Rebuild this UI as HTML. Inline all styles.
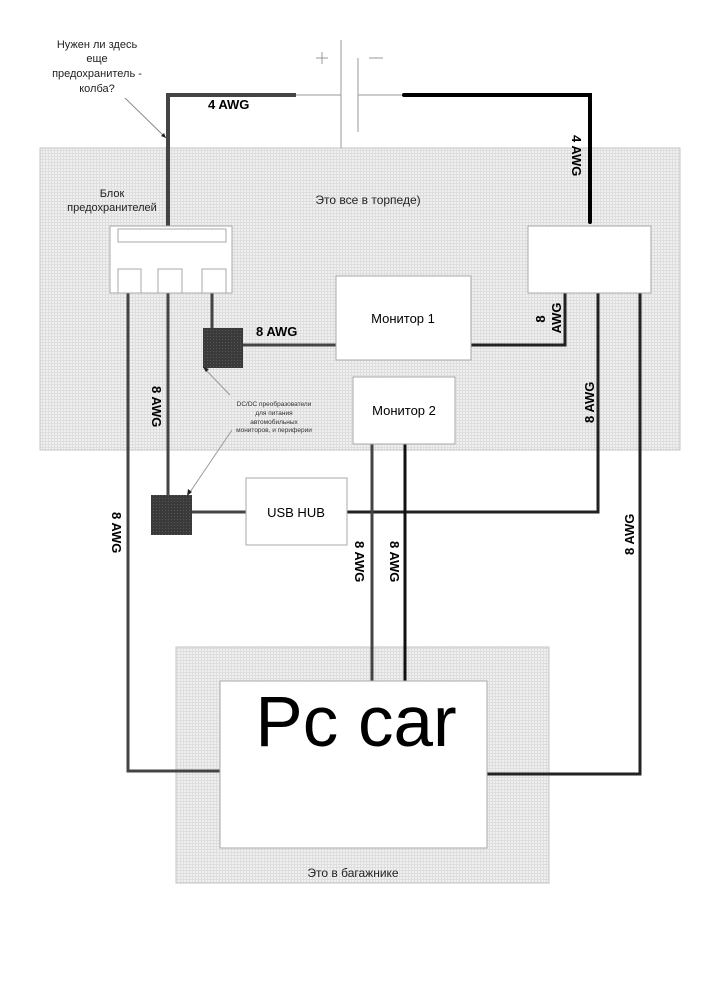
<!DOCTYPE html>
<html><head><meta charset="utf-8"><style>
html,body{margin:0;padding:0;background:#fff;}
svg{display:block;font-family:"Liberation Sans",Arial,sans-serif;}
</style></head><body>
<svg width="707" height="1000" viewBox="0 0 707 1000" xmlns="http://www.w3.org/2000/svg">
<defs>
<pattern id="g" width="3" height="3" patternUnits="userSpaceOnUse">
<rect width="3" height="3" fill="#f0f0f0"/><rect width="1" height="3" fill="#dedede"/><rect width="3" height="1" fill="#dedede"/>
</pattern>
<pattern id="d" width="3" height="3" patternUnits="userSpaceOnUse">
<rect width="3" height="3" fill="#3a3a3a"/><rect width="1" height="1" fill="#555"/>
</pattern>
</defs>
<rect x="40" y="148" width="640" height="302" fill="url(#g)" stroke="#c4c4c4"/>
<rect x="176" y="647" width="373" height="236" fill="url(#g)" stroke="#c4c4c4"/>
<line x1="341" y1="40" x2="341" y2="148" stroke="#999" stroke-width="1"/>
<line x1="358" y1="58" x2="358" y2="132" stroke="#999" stroke-width="1"/>
<line x1="296" y1="95" x2="341" y2="95" stroke="#999"/>
<line x1="358" y1="95" x2="404" y2="95" stroke="#999"/>
<line x1="316" y1="58" x2="328" y2="58" stroke="#999"/><line x1="322" y1="52" x2="322" y2="64" stroke="#999"/>
<line x1="369" y1="58" x2="383" y2="58" stroke="#999"/>
<polyline points="296,95 168,95 168,226" fill="none" stroke="#444" stroke-width="4"/>
<polyline points="404,95 590,95 590,222" fill="none" stroke="#000" stroke-width="4" stroke-linecap="round"/>
<text x="208" y="109" font-size="13" font-weight="bold">4 AWG</text>
<text transform="translate(572,135) rotate(90)" font-size="13" font-weight="bold">4 AWG</text>
<text font-size="11" text-anchor="middle" fill="#222"><tspan x="97" y="48">Нужен ли здесь</tspan><tspan x="97" y="62">еще</tspan><tspan x="97" y="77">предохранитель -</tspan><tspan x="97" y="92">колба?</tspan></text>
<line x1="125" y1="98" x2="166" y2="138" stroke="#888"/>
<polygon points="166,138 161,136 164,133" fill="#222"/>
<text font-size="11" text-anchor="middle" fill="#222"><tspan x="112" y="197">Блок</tspan><tspan x="112" y="211">предохранителей</tspan></text>
<text x="368" y="204" font-size="12" text-anchor="middle" fill="#222">Это все в торпеде)</text>
<g fill="none" stroke-width="3">
<polyline points="128,293 128,771 220,771" stroke="#444"/>
<polyline points="168,293 168,495" stroke="#444"/>
<polyline points="212,293 212,328" stroke="#444"/>
<polyline points="243,345 336,345" stroke="#444"/>
<polyline points="471,345 565,345 565,293" stroke="#222"/>
<polyline points="598,293 598,512 347,512" stroke="#222"/>
<polyline points="640,293 640,774 487,774" stroke="#222"/>
<polyline points="192,512 246,512" stroke="#444"/>
<polyline points="372,444 372,681" stroke="#444"/>
<polyline points="405,444 405,681" stroke="#111"/>
</g>
<rect x="110" y="226" width="122" height="67" fill="#fff" stroke="#aaa"/>
<rect x="118" y="229" width="108" height="13" fill="#fff" stroke="#aaa"/>
<rect x="118" y="269" width="23" height="24" fill="#fff" stroke="#aaa"/>
<rect x="158" y="269" width="24" height="24" fill="#fff" stroke="#aaa"/>
<rect x="202" y="269" width="24" height="24" fill="#fff" stroke="#aaa"/>
<rect x="528" y="226" width="123" height="67" fill="#fff" stroke="#aaa"/>
<rect x="336" y="276" width="135" height="84" fill="#fff" stroke="#aaa"/>
<text x="403" y="323" font-size="13" text-anchor="middle">Монитор 1</text>
<rect x="353" y="377" width="102" height="67" fill="#fff" stroke="#aaa"/>
<text x="404" y="415" font-size="13" text-anchor="middle">Монитор 2</text>
<rect x="246" y="478" width="101" height="67" fill="#fff" stroke="#aaa"/>
<text x="296" y="517" font-size="13" text-anchor="middle">USB HUB</text>
<rect x="203" y="328" width="40" height="40" fill="url(#d)"/>
<rect x="151" y="495" width="41" height="40" fill="url(#d)"/>
<text font-size="6.5" text-anchor="middle" fill="#333"><tspan x="274" y="406">DC/DC преобразователи</tspan><tspan x="274" y="415">для питания</tspan><tspan x="274" y="424">автомобильных</tspan><tspan x="274" y="432">мониторов, и периферии</tspan></text>
<line x1="230" y1="395" x2="204" y2="368" stroke="#999"/>
<polygon points="203,367 209,369 206,372" fill="#222"/>
<line x1="232" y1="430" x2="188" y2="495" stroke="#999"/>
<polygon points="187,496 188,489 192,492" fill="#222"/>
<text x="256" y="336" font-size="13" font-weight="bold">8 AWG</text>
<g font-size="13" font-weight="bold">
<text transform="translate(152,386) rotate(90)">8 AWG</text>
<text transform="translate(112,512) rotate(90)">8 AWG</text>
<text transform="translate(355,541) rotate(90)">8 AWG</text>
<text transform="translate(390,541) rotate(90)">8 AWG</text>
<text transform="translate(634,555) rotate(-90)">8 AWG</text>
<text transform="translate(594,423) rotate(-90)">8 AWG</text>
<text transform="translate(545,319) rotate(-90)" text-anchor="middle">8</text>
<text transform="translate(561,318) rotate(-90)" text-anchor="middle">AWG</text>
</g>
<rect x="220" y="681" width="267" height="167" fill="#fff" stroke="#aaa"/>
<text x="356" y="746" font-size="71" text-anchor="middle">Pc car</text>
<text x="353" y="877" font-size="12" text-anchor="middle" fill="#222">Это в багажнике</text>
</svg>
</body></html>
